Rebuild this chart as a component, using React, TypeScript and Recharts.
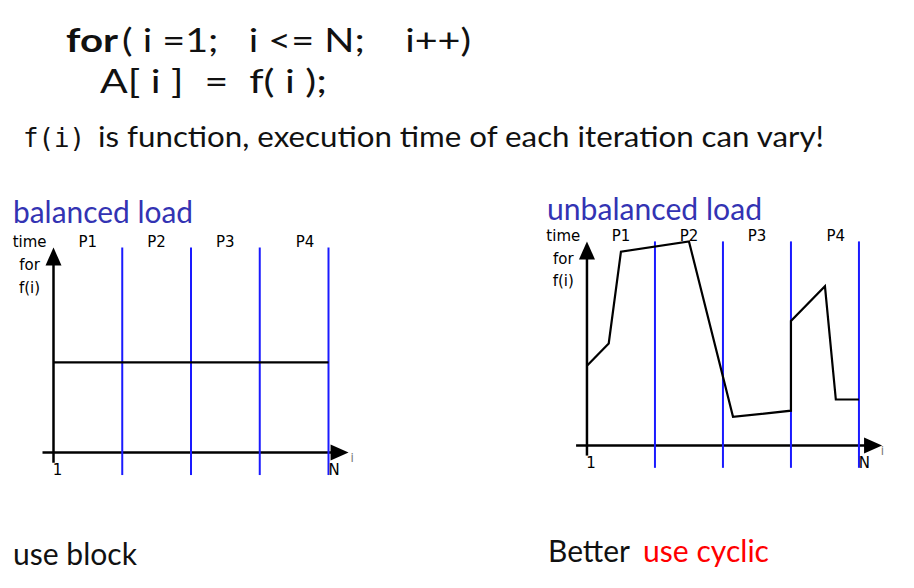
import React from 'react';
import { LineChart, Line, XAxis, YAxis, ReferenceLine, ReferenceDot } from 'recharts';

// block boundaries (iteration index scaled 0..100, N = 100)
const BLOCK_BOUNDS = [25, 50, 75, 100];
const BLOCK_LABELS = ['P1', 'P2', 'P3', 'P4'];
const BLOCK_LABEL_POS = [12.5, 37.5, 62.5, 91.5];
const Y_LABELS = ['time', 'for', 'f(i)'];
const Y_LABEL_POS = [100, 89, 78];

// balanced load: constant time per iteration
const BALANCED_I = [0, 100];
const BALANCED_TIME = [44, 44];

// unbalanced load: time varies per iteration
const UNBALANCED_I = [0, 8, 12.5, 37.5, 53.7, 75, 75, 87.5, 91.5, 100];
const UNBALANCED_TIME = [39, 50, 95, 100, 14, 17, 61, 78, 22.5, 22.5];

const X_DOMAIN = [-18, 112];
const Y_DOMAIN = [-16, 110];

const BLUE = '#1a1aff';
const TITLE = '#3333b3';
const SMALL_FONT = '"DejaVu Sans", sans-serif';
const SLIDE_FONT = 'Lato, sans-serif';

type PanelProps = {
  xs: number[];
  ys: number[];
  x0: number; // pixel of i = 0
  y0: number; // pixel of time = 0
  sx: number;
  sy: number;
  xTip: number;
};

const textAt = (txt: string, opts: { size?: number; anchor?: string; fill?: string } = {}) =>
  (p: any) => (
    <text
      x={p.cx}
      y={p.cy}
      textAnchor={opts.anchor || 'middle'}
      fontFamily={SMALL_FONT}
      fontSize={opts.size || 15}
      fill={opts.fill || '#000'}
    >
      {txt}
    </text>
  );

const upArrow = (p: any) => (
  <polygon points={`${p.cx},${p.cy} ${p.cx - 8},${p.cy + 18} ${p.cx + 8},${p.cy + 18}`} fill="#000" />
);
const rightArrow = (p: any) => (
  <polygon points={`${p.cx},${p.cy} ${p.cx - 18},${p.cy - 8} ${p.cx - 18},${p.cy + 8}`} fill="#000" />
);

const Panel: React.FC<PanelProps> = ({ xs, ys, x0, y0, sx, sy, xTip }) => {
  const data = xs.map((x, k) => ({ i: x, t: ys[k] }));
  const left = x0 + X_DOMAIN[0] * sx;
  const width = (X_DOMAIN[1] - X_DOMAIN[0]) * sx;
  const top = y0 - Y_DOMAIN[1] * sy;
  const height = (Y_DOMAIN[1] - Y_DOMAIN[0]) * sy;
  return (
    <div style={{ position: 'absolute', left, top }}>
      <LineChart width={width} height={height} data={data} margin={{ top: 0, right: 0, bottom: 0, left: 0 }}>
        <XAxis dataKey="i" type="number" domain={X_DOMAIN} allowDataOverflow hide />
        <YAxis type="number" domain={Y_DOMAIN} allowDataOverflow hide />
        {/* axes */}
        <ReferenceLine segment={[{ x: -4, y: 0 }, { x: xTip - 5, y: 0 }]} stroke="#000" strokeWidth={2.5} />
        <ReferenceLine segment={[{ x: 0, y: -5 }, { x: 0, y: 92 }]} stroke="#000" strokeWidth={2.5} />
        <ReferenceDot x={0} y={100} shape={upArrow} />
        <ReferenceDot x={xTip} y={0} shape={rightArrow} />
        {BLOCK_BOUNDS.map((b) => (
          <ReferenceLine key={b} segment={[{ x: b, y: -11 }, { x: b, y: 100 }]} stroke={BLUE} strokeWidth={2} />
        ))}
        <Line
          dataKey="t"
          type="linear"
          stroke="#000"
          strokeWidth={2.2}
          dot={false}
          isAnimationActive={false}
        />
        {BLOCK_LABELS.map((lab, k) => (
          <ReferenceDot key={lab} x={BLOCK_LABEL_POS[k]} y={100} shape={textAt(lab)} />
        ))}
        {Y_LABELS.map((lab, k) => (
          <ReferenceDot key={lab} x={-8.7} y={Y_LABEL_POS[k]} shape={textAt(lab)} />
        ))}
        <ReferenceDot x={1.5} y={-11} shape={textAt('1')} />
        <ReferenceDot x={102} y={-11} shape={textAt('N')} />
        <ReferenceDot x={108.6} y={-4.5} shape={textAt('i', { size: 12, fill: '#777' })} />
      </LineChart>
    </div>
  );
};

type Seg = { t: string; x: number; w: number; y: number; size: number; fill?: string; bold?: boolean; mono?: boolean };

const SLIDE_TEXT: Seg[] = [
  { t: 'for', x: 66, w: 52, y: 52, size: 32, bold: true },
  { t: '( i =1;   i <= N;    i++)', x: 122, w: 349, y: 52, size: 32 },
  { t: 'A[ i ]  =  f( i );', x: 100, w: 227, y: 93, size: 32 },
  { t: 'f(i)', x: 23, w: 62, y: 147, size: 26, mono: true },
  { t: 'is function, execution time of each iteration can vary!', x: 98, w: 726, y: 147, size: 29 },
  { t: 'balanced load', x: 13, w: 180, y: 223, size: 31, fill: TITLE },
  { t: 'unbalanced load', x: 547, w: 215, y: 220, size: 31, fill: TITLE },
  { t: 'use block', x: 13, w: 124, y: 565, size: 31 },
  { t: 'Better', x: 548, w: 82, y: 562, size: 31 },
  { t: 'use cyclic', x: 643, w: 126, y: 562, size: 31, fill: '#ff0000' },
];

export default function App() {
  return (
    <div style={{ position: 'absolute', left: 0, top: 0, width: 914, height: 588, background: '#fff', overflow: 'hidden' }}>
      <Panel xs={BALANCED_I} ys={BALANCED_TIME} x0={53} y0={452} sx={2.75} sy={2.05} xTip={107.3} />
      <Panel xs={UNBALANCED_I} ys={UNBALANCED_TIME} x0={587} y0={445} sx={2.72} sy={2.04} xTip={108.5} />
      <svg width={914} height={588} style={{ position: 'absolute', left: 0, top: 0, pointerEvents: 'none' }}>
        {SLIDE_TEXT.map((s, k) => (
          <text
            key={k}
            x={s.x}
            y={s.y}
            textLength={s.w}
            lengthAdjust="spacingAndGlyphs"
            fontSize={s.size}
            fontWeight={s.bold ? 700 : 400}
            fontFamily={s.mono ? '"DejaVu Sans Mono", monospace' : SLIDE_FONT}
            fill={s.fill || '#111'}
            style={{ whiteSpace: 'pre' }}
          >
            {s.t}
          </text>
        ))}
      </svg>
    </div>
  );
}
